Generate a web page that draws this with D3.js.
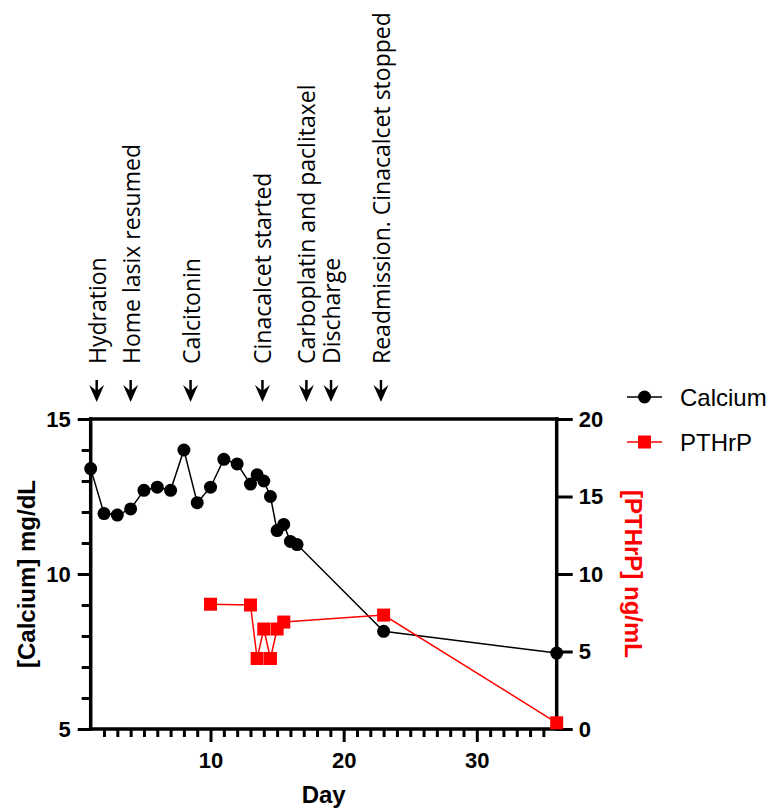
<!DOCTYPE html>
<html>
<head>
<meta charset="utf-8">
<script src="https://cdn.jsdelivr.net/npm/d3@7"></script>
<style>
  body { margin: 0; background: #fff; }
  svg { display: block; }
</style>
</head>
<body>
<svg id="chart" width="771" height="809"></svg>
<script>
// Calcium (mg/dL) by day
const calciumDays = [1, 2, 3, 4, 5, 6, 7, 8, 9, 10, 11, 12, 13, 13.5, 14, 14.5, 15, 15.5, 16, 16.5, 23, 36];
const calciumValues = [13.4, 11.95, 11.9, 12.1, 12.7, 12.8, 12.7, 14.0, 12.3, 12.8, 13.7, 13.55, 12.9, 13.2, 13.0, 12.5, 11.4, 11.6, 11.05, 10.95, 8.15, 7.45];

// PTHrP (ng/mL) by day
const pthrpDays = [10, 13, 13.5, 14, 14.5, 15, 15.5, 23, 36];
const pthrpValues = [8.05, 8.0, 4.55, 6.45, 4.55, 6.45, 6.9, 7.35, 0.4];

// events marked with arrows above the plot
const eventLabels = ['Hydration', 'Home lasix resumed', 'Calcitonin', 'Cinacalcet started',
    'Carboplatin and paclitaxel', 'Discharge', 'Readmission. Cinacalcet stopped'];
const eventDays = [1.45, 4, 8.5, 13.9, 17.2, 19.05, 22.8];

const leftTicks = [5, 10, 15];
const rightTicks = [0, 5, 10, 15, 20];
const xTicks = [10, 20, 30];

const svg = d3.select('#chart');

const x = d3.scaleLinear().domain([1, 36]).range([90.7, 556.7]);
const yLeft = d3.scaleLinear().domain([5, 15]).range([729, 419]);
const yRight = d3.scaleLinear().domain([0, 20]).range([729, 419]);

const tickFont = 'bold 22px "Liberation Sans", Arial, sans-serif';

function styleAxis(sel) {
    sel.select('.domain').remove();
    sel.selectAll('.tick line').attr('stroke', '#000').attr('stroke-width', 3);
    sel.selectAll('.tick text').style('font', tickFont).attr('fill', '#000');
}

// left axis: major + minor ticks
svg.append('g')
    .attr('transform', `translate(${x(1)},0)`)
    .call(d3.axisLeft(yLeft).tickValues(leftTicks).tickSize(13).tickPadding(7))
    .call(styleAxis);
svg.append('g')
    .attr('transform', `translate(${x(1)},0)`)
    .call(d3.axisLeft(yLeft).tickValues(d3.range(6, 15).filter(d => d % 5 !== 0)).tickSize(9).tickFormat(''))
    .call(styleAxis);

// right axis
svg.append('g')
    .attr('transform', `translate(${x(36)},0)`)
    .call(d3.axisRight(yRight).tickValues(rightTicks).tickSize(16).tickPadding(6))
    .call(styleAxis);

// bottom axis
svg.append('g')
    .attr('transform', `translate(0,${yLeft(5)})`)
    .call(d3.axisBottom(x).tickValues(xTicks).tickSize(13).tickPadding(10))
    .call(styleAxis);
svg.append('g')
    .attr('transform', `translate(0,${yLeft(5)})`)
    .call(d3.axisBottom(x).tickValues(d3.range(2, 36).filter(d => d % 10 !== 0)).tickSize(8).tickFormat(''))
    .call(styleAxis);

// frame lines
const frame = svg.append('g').attr('stroke', '#000').attr('stroke-width', 3.5).attr('stroke-linecap', 'square');
frame.append('line').attr('x1', x(1)).attr('x2', x(1)).attr('y1', yLeft(15)).attr('y2', yLeft(5));
frame.append('line').attr('x1', x(36)).attr('x2', x(36)).attr('y1', yLeft(15)).attr('y2', yLeft(5));
frame.append('line').attr('x1', x(1)).attr('x2', x(36)).attr('y1', yLeft(15)).attr('y2', yLeft(15));
frame.append('line').attr('x1', x(1)).attr('x2', x(36)).attr('y1', yLeft(5)).attr('y2', yLeft(5));

// axis titles
svg.append('text')
    .attr('transform', `translate(26,${(yLeft(5) + yLeft(15)) / 2}) rotate(-90)`)
    .attr('text-anchor', 'middle')
    .attr('dominant-baseline', 'central')
    .style('font', 'bold 24px "Liberation Sans", Arial, sans-serif')
    .text('[Calcium] mg/dL');

svg.append('text')
    .attr('transform', `translate(633,${(yLeft(5) + yLeft(15)) / 2}) rotate(90)`)
    .attr('text-anchor', 'middle')
    .attr('dominant-baseline', 'central')
    .attr('fill', '#ff0000')
    .style('font', 'bold 24px "Liberation Sans", Arial, sans-serif')
    .text('[PTHrP] ng/mL');

svg.append('text')
    .attr('x', (x(1) + x(36)) / 2)
    .attr('y', 803)
    .attr('text-anchor', 'middle')
    .style('font', 'bold 24px "Liberation Sans", Arial, sans-serif')
    .text('Day');

// series
const calcium = calciumDays.map((d, i) => ({ day: d, value: calciumValues[i] }));
const pthrp = pthrpDays.map((d, i) => ({ day: d, value: pthrpValues[i] }));

svg.append('path')
    .datum(calcium)
    .attr('fill', 'none')
    .attr('stroke', '#000')
    .attr('stroke-width', 1.5)
    .attr('d', d3.line().x(d => x(d.day)).y(d => yLeft(d.value)));

svg.append('path')
    .datum(pthrp)
    .attr('fill', 'none')
    .attr('stroke', '#ff0000')
    .attr('stroke-width', 1.5)
    .attr('d', d3.line().x(d => x(d.day)).y(d => yRight(d.value)));

svg.append('g')
    .selectAll('circle')
    .data(calcium)
    .join('circle')
    .attr('cx', d => x(d.day))
    .attr('cy', d => yLeft(d.value))
    .attr('r', 6.5)
    .attr('fill', '#000');

svg.append('g')
    .selectAll('rect')
    .data(pthrp)
    .join('rect')
    .attr('x', d => x(d.day) - 6.5)
    .attr('y', d => yRight(d.value) - 6.5)
    .attr('width', 13)
    .attr('height', 13)
    .attr('fill', '#ff0000');

// event annotations
const events = eventLabels.map((label, i) => ({ label, day: eventDays[i] }));
const ev = svg.append('g')
    .selectAll('g')
    .data(events)
    .join('g')
    .attr('transform', d => `translate(${x(d.day)},0)`);

ev.append('text')
    .attr('transform', 'translate(0,364) rotate(-90)')
    .attr('dominant-baseline', 'central')
    .style('font', '23px "Open Sans", sans-serif')
    .text(d => d.label);

ev.append('line')
    .attr('y1', 380).attr('y2', 392)
    .attr('stroke', '#000').attr('stroke-width', 2.5);

ev.append('path')
    .attr('d', 'M0,402 L-7.5,385 L0,391 L7.5,385 Z')
    .attr('fill', '#000');

// legend
const legendItems = [
    { name: 'Calcium', color: '#000', shape: 'circle', y: 397 },
    { name: 'PTHrP', color: '#ff0000', shape: 'square', y: 442 }
];
const lg = svg.append('g')
    .selectAll('g')
    .data(legendItems)
    .join('g')
    .attr('transform', d => `translate(627,${d.y})`);

lg.append('line')
    .attr('x1', 0).attr('x2', 35)
    .attr('stroke', d => d.color)
    .attr('stroke-width', 1.5);

lg.filter(d => d.shape === 'circle').append('circle')
    .attr('cx', 17.5).attr('r', 6.5).attr('fill', d => d.color);

lg.filter(d => d.shape === 'square').append('rect')
    .attr('x', 11).attr('y', -6.5).attr('width', 13).attr('height', 13)
    .attr('fill', d => d.color);

lg.append('text')
    .attr('x', 53)
    .attr('dominant-baseline', 'central')
    .style('font', '24px "Liberation Sans", Arial, sans-serif')
    .text(d => d.name);
</script>
</body>
</html>
